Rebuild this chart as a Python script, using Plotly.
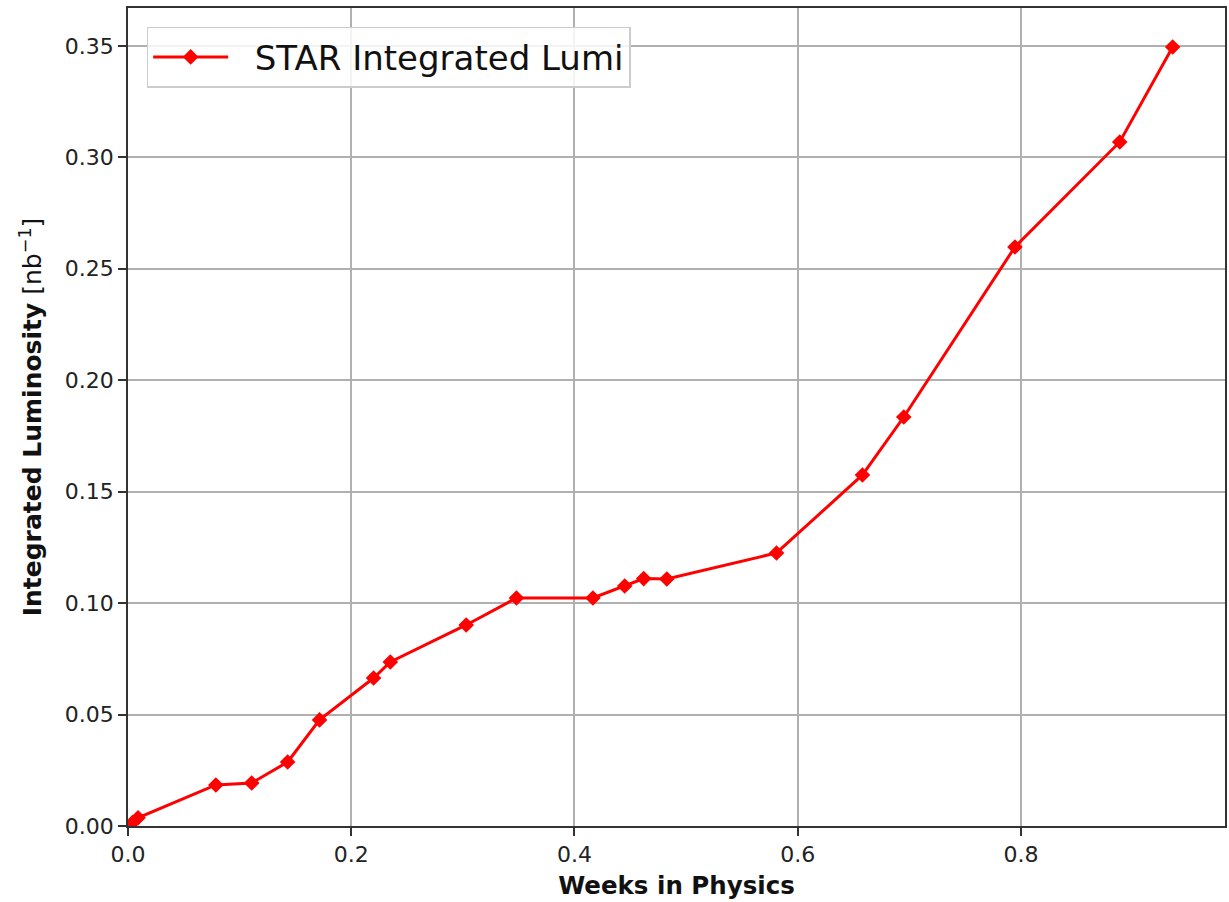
import plotly.graph_objects as go

weeks = [0.004, 0.009, 0.0787, 0.1108, 0.143, 0.1716, 0.220, 0.235, 0.303, 0.348,
         0.4165, 0.445, 0.462, 0.4827, 0.581, 0.658, 0.695, 0.7946, 0.8885, 0.9359]
lumi = [0.0015, 0.0037, 0.0184, 0.0193, 0.0287, 0.0476, 0.0664, 0.0736, 0.0902, 0.1023,
        0.1023, 0.1077, 0.1110, 0.1108, 0.1225, 0.1575, 0.1835, 0.2598, 0.3069, 0.3495]
series_name = "STAR Integrated Lumi"
x_ticks = [0.0, 0.2, 0.4, 0.6, 0.8]
y_ticks = [0.0, 0.05, 0.10, 0.15, 0.20, 0.25, 0.30, 0.35]

fig = go.Figure()
fig.add_trace(go.Scatter(
    x=weeks, y=lumi, mode="lines+markers",
    name="\u00a0\u00a0" + series_name,
    line=dict(color="#ff0000", width=3),
    marker=dict(symbol="diamond", size=12, color="#ff0000"),
    cliponaxis=True,
))

axis_common = dict(
    showline=True, linecolor="#333333", linewidth=1.7, mirror=True,
    ticks="outside", ticklen=8, tickwidth=1.6, tickcolor="#333333",
    showgrid=True, gridcolor="#b0b0b0", gridwidth=1.6,
    zeroline=False,
    tickfont=dict(family="DejaVu Sans", size=22, color="#222222"),
)

fig.update_xaxes(
    range=[0, 0.9828], tickvals=x_ticks, ticktext=[f"{v:.1f}" for v in x_ticks],
    title=dict(text="<b>Weeks in Physics</b>", font=dict(family="DejaVu Sans", size=24.5, color="#111111"), standoff=11),
    **axis_common,
)
fig.update_yaxes(
    range=[0, 0.367], tickvals=y_ticks, ticktext=[f"{v:.2f}" for v in y_ticks],
    title=dict(text="<b>Integrated Luminosity</b> [nb<sup>−1</sup>]", font=dict(family="DejaVu Sans", size=25, color="#111111"), standoff=16),
    **axis_common,
)

fig.update_layout(
    width=1229, height=902,
    margin=dict(l=128, r=2, t=8, b=76),
    paper_bgcolor="white", plot_bgcolor="white",
    font=dict(family="DejaVu Sans"),
    showlegend=True,
    legend=dict(
        x=0.017, y=0.977, xanchor="left", yanchor="top",
        bgcolor="rgba(255,255,255,0.85)", bordercolor="#cccccc", borderwidth=1.5,
        font=dict(family="DejaVu Sans", size=34, color="#111111"),
        itemwidth=75,
    ),
)

fig.write_html(
    "out.html",
    config={"displayModeBar": False},
    post_script="document.body.style.margin='0';document.body.style.overflow='hidden';",
)
